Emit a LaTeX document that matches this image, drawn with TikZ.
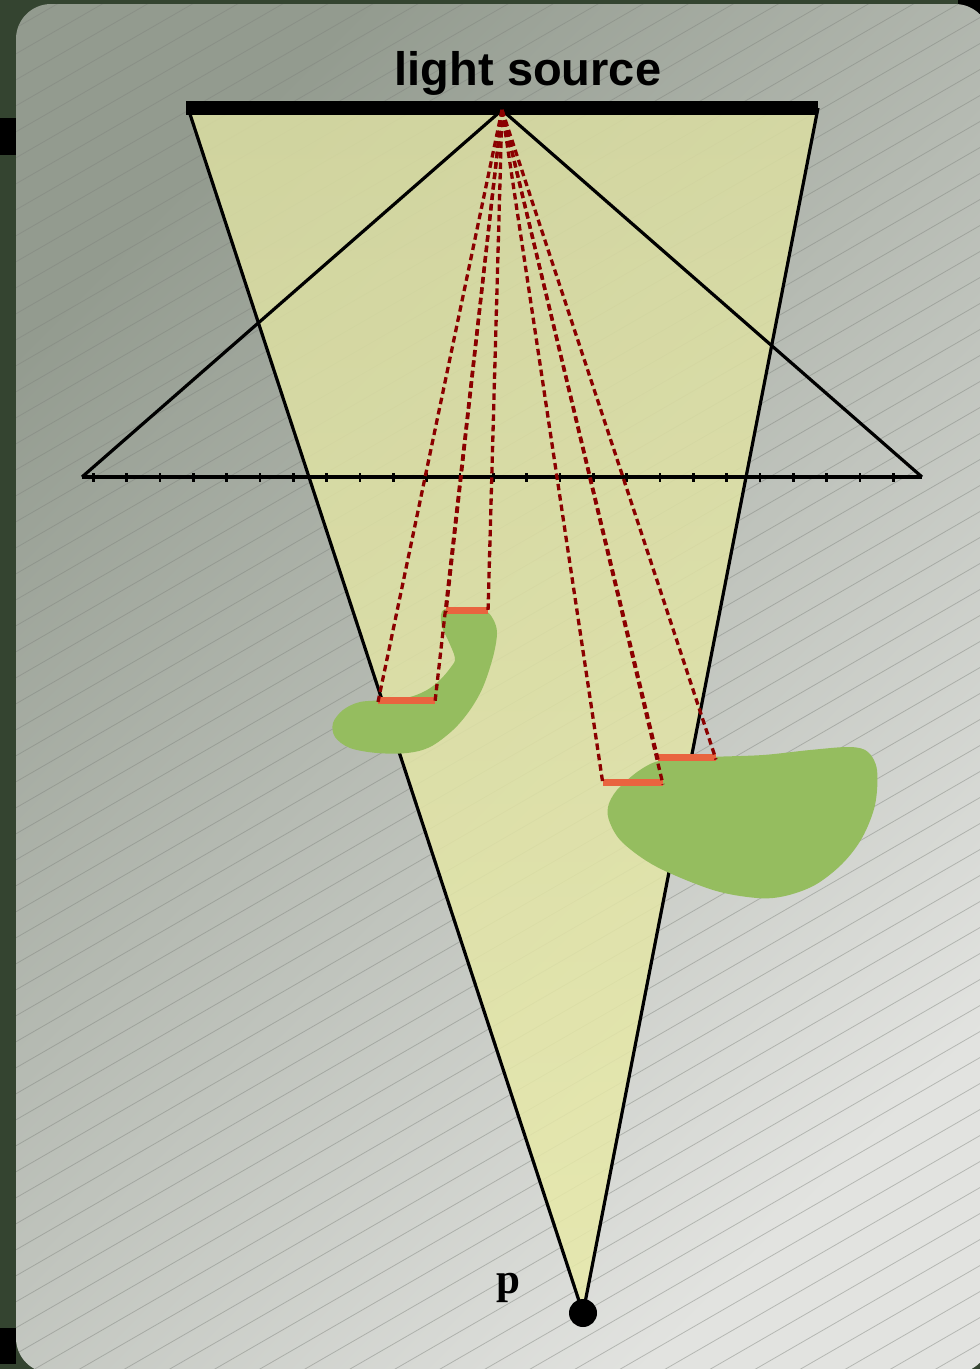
\documentclass[tikz,border=0pt]{standalone}
\usepackage{fontspec}
\setmainfont{Liberation Serif}
\newfontfamily\labelsans{Liberation Sans}
\definecolor{outerbg}{HTML}{344430}
\definecolor{cardtl}{HTML}{939B8F}
\definecolor{cardbr}{HTML}{E2E3E0}
\definecolor{conetop}{HTML}{DBDEA2}
\definecolor{conebot}{HTML}{E8EAA9}
\definecolor{hatchc}{HTML}{7E827C}
\definecolor{blobc}{HTML}{95BD5F}
\definecolor{segc}{HTML}{E9643F}
\definecolor{rayc}{HTML}{8B0000}
\tikzset{
  edgeline/.style={black, line width=3.2pt},
  ray/.style={rayc, line width=3.3pt, dash pattern=on 6.5pt off 4pt},
  segline/.style={segc, line width=7pt},
  blob/.style={blobc},
  tickmark/.style={black, line width=2.7pt},
}
\begin{document}
\begin{tikzpicture}[x=1pt,y=-1pt]
\useasboundingbox (0,0) rectangle (980,1369);
\fill[outerbg] (0,0) rectangle (980,1369);
\fill[black] (0,118) rectangle (16,155);
\fill[black] (0,1328) rectangle (16,1364);
\fill[black] (958,0) rectangle (980,16);
% card
\shade[rounded corners=35pt, top color=cardtl, bottom color=cardbr, shading angle=45]
  (16,4) rectangle (990,1373);
% named points
\coordinate (cl) at (188,108);
\coordinate (cr) at (818,108);
\coordinate (p) at (583,1313);
\coordinate (apex) at (502,110);
\coordinate (tl) at (82,477);
\coordinate (tr) at (922,477);
% hatching
\begin{scope}
  \clip[rounded corners=35pt] (16,4) rectangle (990,1373);
  \foreach \c in {11,37,...,1960} {
    \draw[hatchc, line width=0.8pt, opacity=0.45] (0,\c) -- (1000,\c-577);
  }
\end{scope}
% cone fill (slightly translucent)
\shade[top color=conetop, bottom color=conebot, opacity=0.85] (cl) -- (cr) -- (p) -- cycle;
% cone edges and source bar
\draw[edgeline] (cl) -- (p) -- (cr);
\draw[black, line width=14pt] (186,108) -- (818,108);
% triangle and base line
\draw[edgeline, line join=miter] (tl) -- (apex) -- (tr);
\draw[edgeline] (tl) -- (tr);
\foreach \i in {0,...,24} {
  \draw[tickmark] ({93.33+33.33*\i},473) -- ({93.33+33.33*\i},482);
}
% obstacles
\fill[blob] plot[smooth cycle, tension=0.55] coordinates {
  (441,615) (442,627) (448,640) (455,658) (451,667) (440,680) (427,690) (410,697)
  (387,700) (360,702) (343,710) (333,723) (335,737) (350,748) (377,753) (407,753)
  (430,747) (453,730) (470,710) (483,687) (493,657) (497,633) (493,619) (484,610) (462,609) (445,609)};
\fill[blob] plot[smooth cycle, tension=0.55] coordinates {
  (663,760) (710,757) (763,755) (810,750) (850,747) (868,752) (877,770) (875,805)
  (862,838) (842,864) (815,885) (785,896) (757,898) (713,890) (657,867) (623,843)
  (610,823) (608,807) (617,790) (640,770)};
% shadow segments
\coordinate (a1) at (446,610); \coordinate (a2) at (488,610);
\coordinate (b1) at (378,700); \coordinate (b2) at (435,700);
\coordinate (c1) at (603,782.5); \coordinate (c2) at (663,782.5);
\coordinate (d1) at (658,757.5); \coordinate (d2) at (716,757.5);
\draw[segline] (a1) -- (a2);
\draw[segline] (b1) -- (b2);
\draw[segline] (c1) -- (c2);
\draw[segline] (d1) -- (d2);
% rays
\foreach \e in {a1,a2,b1,b2,c1,c2,d1,d2} {
  \draw[ray] (apex) -- ([yshift=-2pt]\e);
}
% labels
\node[anchor=base, inner sep=0pt] (title) at (528,85)
  {\labelsans\bfseries\fontsize{47}{50}\selectfont light source};
\node[anchor=base, inner sep=0pt] (plabel) at (508.5,1293)
  {\bfseries\fontsize{43}{45}\selectfont p};
\fill[black] (p) circle (14pt);
\end{tikzpicture}
\end{document}
